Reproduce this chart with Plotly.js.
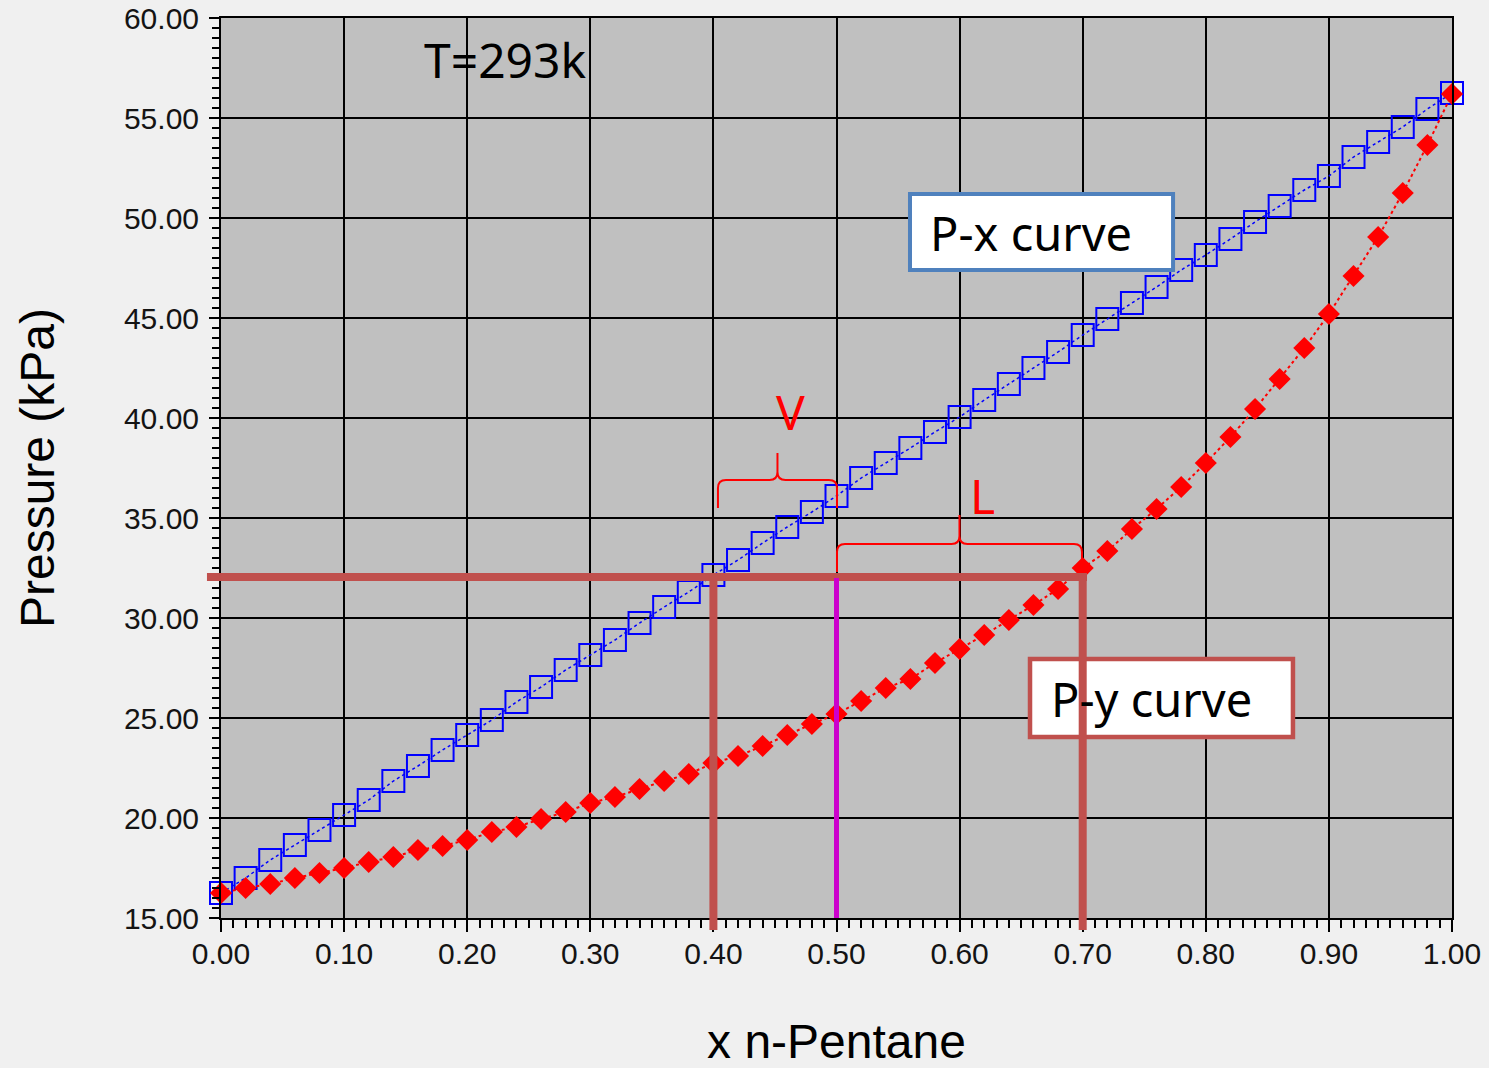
<!DOCTYPE html>
<html>
<head>
<meta charset="utf-8">
<script src="https://cdn.plot.ly/plotly-3.0.1.min.js"></script>
<style>
  html, body { margin: 0; padding: 0; background: #f0f0f0; }
  #chart { width: 1489px; height: 1068px; }
</style>
</head>
<body>
<div id="chart"></div>
<script>
// Mole fraction of n-Pentane
const xValues = [0.00,0.02,0.04,0.06,0.08,0.10,0.12,0.14,0.16,0.18,
                 0.20,0.22,0.24,0.26,0.28,0.30,0.32,0.34,0.36,0.38,
                 0.40,0.42,0.44,0.46,0.48,0.50,0.52,0.54,0.56,0.58,
                 0.60,0.62,0.64,0.66,0.68,0.70,0.72,0.74,0.76,0.78,
                 0.80,0.82,0.84,0.86,0.88,0.90,0.92,0.94,0.96,0.98,1.00];
// P-x curve (bubble line), kPa
const pxCurve = [16.25,17.00,17.90,18.65,19.40,20.15,20.90,21.85,22.60,23.40,
                 24.15,24.90,25.80,26.55,27.40,28.15,28.90,29.75,30.55,31.30,
                 32.15,32.90,33.75,34.55,35.30,36.10,37.00,37.75,38.50,39.30,
                 40.05,40.90,41.70,42.50,43.30,44.15,44.95,45.75,46.55,47.40,
                 48.15,48.95,49.80,50.60,51.40,52.10,53.05,53.80,54.55,55.45,56.25];
// P-y curve (dew line), kPa
const pyCurve = [16.25,16.50,16.70,17.00,17.25,17.50,17.80,18.05,18.40,18.60,
                 18.90,19.30,19.55,19.95,20.30,20.75,21.05,21.45,21.85,22.20,
                 22.75,23.10,23.60,24.15,24.70,25.20,25.85,26.50,26.95,27.75,
                 28.45,29.15,29.90,30.65,31.45,32.50,33.35,34.45,35.45,36.55,
                 37.75,39.05,40.45,41.95,43.50,45.20,47.10,49.05,51.25,53.65,56.20];

const xTickVals = [0,0.1,0.2,0.3,0.4,0.5,0.6,0.7,0.8,0.9,1.0];
const yTickVals = [15,20,25,30,35,40,45,50,55,60];

// tie-line construction
const tieP = 32.05;
const xVapour = 0.40;
const xFeed = 0.50;
const xLiquid = 0.70;

function brace(xl, xr, ybl, ybr, yh, yt, dx, dy) {
  const xc = (xl + xr) / 2;
  return `M${xl},${ybl} L${xl},${yh - dy} Q${xl},${yh} ${xl + dx},${yh} ` +
         `L${xc - dx},${yh} Q${xc},${yh} ${xc},${yh + dy} L${xc},${yt} ` +
         `L${xc},${yh + dy} Q${xc},${yh} ${xc + dx},${yh} ` +
         `L${xr - dx},${yh} Q${xr},${yh} ${xr},${yh - dy} L${xr},${ybr}`;
}

const traces = [
  {
    x: xValues, y: pxCurve, type: 'scatter', mode: 'lines+markers', name: 'P-x',
    cliponaxis: false,
    line: { color: '#0000ff', width: 1.5, dash: 'dot' },
    marker: { symbol: 'square-open', size: 22, color: '#0000ff', line: { width: 2, color: '#0000ff' } },
    hoverinfo: 'x+y'
  },
  {
    x: xValues, y: pyCurve, type: 'scatter', mode: 'lines+markers', name: 'P-y',
    cliponaxis: false,
    line: { color: '#ff0000', width: 2, dash: 'dot' },
    marker: { symbol: 'diamond', size: 17, color: '#ff0000' },
    hoverinfo: 'x+y'
  }
];

const tickFont = { family: 'Liberation Sans, Arial, sans-serif', size: 30, color: '#141414' };
const noto = 'Noto Sans, Open Sans, sans-serif';

const layout = {
  width: 1489, height: 1068,
  paper_bgcolor: '#f0f0f0',
  plot_bgcolor: '#c0c0c0',
  margin: { l: 221, r: 37, t: 18, b: 150, pad: 0 },
  showlegend: false,
  xaxis: {
    range: [0, 1], tickvals: xTickVals, tickformat: '.2f',
    showgrid: true, gridcolor: '#000000', gridwidth: 2,
    showline: true, linecolor: '#000000', linewidth: 2, mirror: true,
    ticks: 'outside', ticklen: 12, tickwidth: 2, tickcolor: '#000000',
    ticklabelstandoff: -4,
    minor: { dtick: 0.01, ticks: 'outside', ticklen: 8, tickwidth: 2, tickcolor: '#000000', showgrid: false },
    tickfont: tickFont, zeroline: false,
    title: { text: 'x n-Pentane', font: { family: 'Liberation Sans, Arial, sans-serif', size: 48, color: '#000' }, standoff: 58 }
  },
  yaxis: {
    range: [15, 60], tickvals: yTickVals, tickformat: '.2f',
    showgrid: true, gridcolor: '#000000', gridwidth: 2,
    showline: true, linecolor: '#000000', linewidth: 2, mirror: true,
    ticks: 'outside', ticklen: 10, tickwidth: 2, tickcolor: '#000000',
    ticklabelstandoff: 4,
    minor: { dtick: 0.5, ticks: 'outside', ticklen: 7, tickwidth: 2, tickcolor: '#000000', showgrid: false },
    tickfont: tickFont, zeroline: false,
    title: { text: 'Pressure (kPa)', font: { family: 'Liberation Sans, Arial, sans-serif', size: 48, color: '#000' }, standoff: 54 }
  },
  shapes: [
    // P-x label box
    { type: 'rect', xref: 'x', yref: 'y', x0: 0.5597, x1: 0.7734, y0: 47.4, y1: 51.2,
      fillcolor: '#ffffff', line: { color: '#4f81bd', width: 4 }, layer: 'above' },
    // P-y label box
    { type: 'rect', xref: 'x', yref: 'y', x0: 0.6572, x1: 0.8708, y0: 24.05, y1: 27.95,
      fillcolor: '#ffffff', line: { color: '#c0504d', width: 4.5 }, layer: 'above' },
    // horizontal tie line
    { type: 'line', xref: 'paper', yref: 'paper', x0: -0.0114, x1: 0.7035,
      y0: (tieP - 15) / 45, y1: (tieP - 15) / 45, line: { color: '#c0504d', width: 8 }, layer: 'above' },
    // vertical drop lines
    { type: 'line', xref: 'paper', yref: 'paper', x0: xVapour, x1: xVapour,
      y0: (tieP - 15) / 45 + 0.0044, y1: -0.0133, line: { color: '#c0504d', width: 8 }, layer: 'above' },
    { type: 'line', xref: 'paper', yref: 'paper', x0: xLiquid, x1: xLiquid,
      y0: (tieP - 15) / 45 + 0.0044, y1: -0.0133, line: { color: '#c0504d', width: 8 }, layer: 'above' },
    // feed line
    { type: 'line', xref: 'x', yref: 'y', x0: xFeed, x1: xFeed, y0: tieP - 0.05, y1: 15,
      line: { color: '#cc00cc', width: 5 }, layer: 'above' },
    // V brace
    { type: 'path', xref: 'x', yref: 'y', layer: 'above',
      path: brace(0.4037, 0.5004, 35.5, 35.5, 36.9, 38.25, 0.0065, 0.4),
      line: { color: '#ff0000', width: 2 } },
    // L brace
    { type: 'path', xref: 'x', yref: 'y', layer: 'above',
      path: brace(0.5004, 0.6994, 32.3, 32.8, 33.7, 35.15, 0.0065, 0.4),
      line: { color: '#ff0000', width: 2 } }
  ],
  annotations: [
    { text: 'T=293k', xref: 'x', yref: 'y', x: 0.1633, y: 57.95, xanchor: 'left', yanchor: 'middle',
      showarrow: false, font: { family: noto, size: 48, color: '#000' } },
    { text: 'P-x curve', xref: 'x', yref: 'y', x: 0.5743, y: 49.25, xanchor: 'left', yanchor: 'middle',
      showarrow: false, font: { family: noto, size: 47, color: '#000' } },
    { text: 'P-y curve', xref: 'x', yref: 'y', x: 0.6726, y: 25.95, xanchor: 'left', yanchor: 'middle',
      showarrow: false, font: { family: noto, size: 47, color: '#000' } },
    { text: 'V', xref: 'x', yref: 'y', x: 0.4630, y: 40.35, xanchor: 'center', yanchor: 'middle',
      showarrow: false, font: { family: noto, size: 48, color: '#ff0000' } },
    { text: 'L', xref: 'x', yref: 'y', x: 0.6190, y: 36.15, xanchor: 'center', yanchor: 'middle',
      showarrow: false, font: { family: noto, size: 48, color: '#ff0000' } }
  ]
};

Plotly.newPlot('chart', traces, layout, { displayModeBar: false, staticPlot: true });
</script>
</body>
</html>
